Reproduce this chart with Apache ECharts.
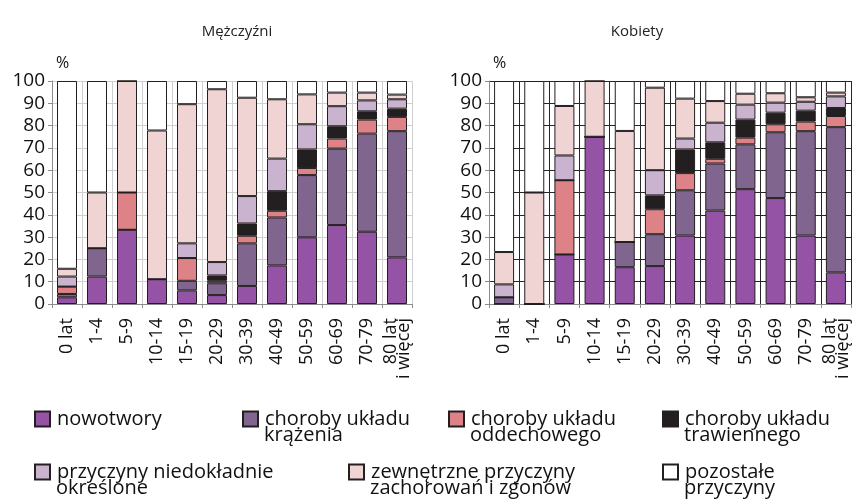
<!DOCTYPE html>
<html>
<head>
    <meta charset="utf-8">
    <title>Zgony wg przyczyn</title>
    <script src="https://cdn.jsdelivr.net/npm/echarts@6/dist/echarts.min.js"></script>
</head>
<body style="margin:0">
    <div id="main" style="width: 860px;height:499px;"></div>
    <script type="text/javascript">

    var categories = ['0 lat', '1-4', '5-9', '10-14', '15-19', '20-29', '30-39', '40-49', '50-59', '60-69', '70-79', '80 lat\ni więcej'];
    var yTicks = [0, 10, 20, 30, 40, 50, 60, 70, 80, 90, 100];

    // legend text: first line goes in the legend, second line under it
    var names = ['nowotwory', 'choroby układu', 'choroby układu ', 'choroby układu  ',
                 'przyczyny niedokładnie', 'zewnętrzne przyczyny', 'pozostałe'];
    var secondLines = ['', 'krążenia', 'oddechowego', 'trawiennego', 'określone', 'zachorowań i zgonów', 'przyczyny'];
    var colors = ['#9553a5', '#80668f', '#dd8387', '#231f20', '#c9b3cf', '#f0d4d3', '#ffffff'];

    // Mężczyźni
    var mNowotwory   = [3.0, 12.3, 33.3, 11.1, 6.1, 4.0, 8.1, 17.3, 29.9, 35.4, 32.4, 20.9];
    var mKrazenia    = [1.5, 12.7, 0, 0, 4.3, 5.3, 19.1, 21.5, 27.9, 34.3, 44.0, 56.6];
    var mOddechowe   = [3.3, 0, 16.7, 0, 10.2, 1.1, 3.4, 3.0, 3.2, 4.5, 6.3, 6.4];
    var mTrawienne   = [0, 0, 0, 0, 0, 2.4, 5.5, 8.8, 8.3, 5.5, 3.7, 3.7];
    var mNiedokladne = [4.5, 0, 0, 0, 6.6, 6.0, 12.3, 14.6, 11.3, 9.0, 4.9, 4.2];
    var mZewnetrzne  = [3.5, 25.0, 50.0, 66.7, 62.4, 77.5, 44.1, 26.6, 13.4, 6.1, 3.5, 2.1];
    var mPozostale   = [84.2, 50.0, 0, 22.2, 10.4, 3.7, 7.5, 8.2, 6.0, 5.2, 5.2, 6.1];

    // Kobiety
    var kNowotwory   = [0, 0, 22.2, 75.0, 16.5, 17.0, 30.7, 41.9, 51.5, 47.5, 30.7, 14.2];
    var kKrazenia    = [3.0, 0, 0, 0, 11.3, 14.3, 20.3, 21.1, 20.1, 29.5, 46.8, 65.1];
    var kOddechowe   = [0, 0, 33.3, 0, 0, 11.2, 7.7, 2.1, 3.0, 3.6, 4.3, 5.0];
    var kTrawienne   = [0, 0, 0, 0, 0, 6.2, 10.6, 7.4, 8.1, 5.2, 4.9, 3.6];
    var kNiedokladne = [5.8, 0, 11.1, 0, 0, 11.3, 4.9, 8.8, 6.7, 4.5, 4.0, 5.2];
    var kZewnetrzne  = [14.5, 50.0, 22.2, 25.0, 49.8, 37.0, 17.9, 9.7, 4.9, 4.2, 2.0, 1.7];
    var kPozostale   = [76.7, 50.0, 11.2, 0, 22.4, 3.0, 7.9, 9.0, 5.7, 5.5, 7.3, 5.2];

    var menData = [mNowotwory, mKrazenia, mOddechowe, mTrawienne, mNiedokladne, mZewnetrzne, mPozostale];
    var womenData = [kNowotwory, kKrazenia, kOddechowe, kTrawienne, kNiedokladne, kZewnetrzne, kPozostale];

    var font = 'Open Sans';
    var myChart = echarts.init(document.getElementById('main'));

    function xAxisFor(idx, gridColor) {
        return {
            type: 'category',
            gridIndex: idx,
            data: categories,
            axisLine: {lineStyle: {color: '#8c8c8c'}},
            axisTick: {show: true, length: 4, lineStyle: {color: '#8c8c8c'}},
            splitLine: {show: true, lineStyle: {color: gridColor, width: 1}},
            axisLabel: {rotate: 90, interval: 0, fontFamily: font, fontSize: 18, color: '#111',
                        lineHeight: 13, margin: 14}
        };
    }
    function yAxisFor(idx, gridColor) {
        return {
            type: 'value',
            gridIndex: idx,
            min: 0, max: 100, interval: 10,
            name: '%',
            nameLocation: 'end',
            nameGap: 10,
            nameTextStyle: {fontFamily: font, fontSize: 16, color: '#111', align: 'left', padding: [0, 0, 0, 4]},
            axisLine: {show: true, lineStyle: {color: '#8c8c8c'}},
            axisTick: {show: true, length: 4, lineStyle: {color: '#8c8c8c'}},
            splitLine: {show: true, lineStyle: {color: gridColor, width: 1}},
            axisLabel: {fontFamily: font, fontSize: 19, color: '#111', margin: 7,
                        formatter: function (v) { return yTicks.indexOf(v) >= 0 ? v : ''; }}
        };
    }

    var series = [];
    [menData, womenData].forEach(function (set, g) {
        set.forEach(function (vals, i) {
            series.push({
                name: names[i],
                type: 'bar',
                stack: 'g' + g,
                xAxisIndex: g,
                yAxisIndex: g,
                barWidth: 20,
                data: vals,
                itemStyle: {color: colors[i], borderColor: '#231f20', borderWidth: 1}
            });
        });
    });

    // icon left edge and icon centre of each legend entry
    var legendPos = [[34, 417], [242, 417], [448, 417], [662, 417], [34, 470], [348, 470], [662, 470]];
    var legends = names.map(function (n, i) {
        return {
            data: [{name: n, icon: 'rect'}],
            left: legendPos[i][0],
            top: legendPos[i][1] - 8,
            itemWidth: 15,
            itemHeight: 15,
            itemGap: 0,
            padding: 0,
            selectedMode: false,
            textStyle: {fontFamily: font, fontSize: 20, color: '#111', lineHeight: 16, padding: [0, 0, 0, 2]}
        };
    });
    var graphics = [];
    secondLines.forEach(function (t, i) {
        if (!t) return;
        graphics.push({
            type: 'text',
            left: legendPos[i][0] + 22,
            top: legendPos[i][1] + 16 - 8,
            style: {text: t, font: '20px "Open Sans"', fill: '#111', textVerticalAlign: 'middle'}
        });
    });

    var option = {
        animation: false,
        backgroundColor: '#ffffff',
        title: [
            {text: 'Mężczyźni', left: 232, top: 19, textAlign: 'center',
             textStyle: {fontFamily: font, fontSize: 15, fontWeight: 'normal', color: '#222'}},
            {text: 'Kobiety', left: 632, top: 19, textAlign: 'center',
             textStyle: {fontFamily: font, fontSize: 15, fontWeight: 'normal', color: '#222'}}
        ],
        legend: legends,
        graphic: graphics,
        grid: [
            {left: 52, top: 81, width: 360, height: 223},
            {left: 489, top: 81, width: 362, height: 223}
        ],
        xAxis: [xAxisFor(0, '#cfcfcf'), xAxisFor(1, '#262626')],
        yAxis: [yAxisFor(0, '#cfcfcf'), yAxisFor(1, '#262626')],
        series: series
    };
    myChart.setOption(option);

    </script>
</body>
</html>
